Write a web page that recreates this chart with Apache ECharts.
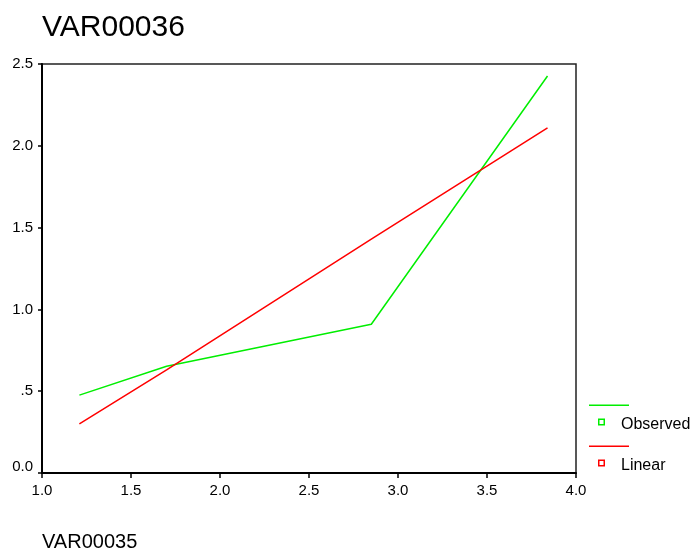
<!DOCTYPE html>
<html>
<head>
<meta charset="utf-8">
<script src="https://cdn.jsdelivr.net/npm/echarts@6/dist/echarts.min.js"></script>
<style>
  html, body { margin: 0; padding: 0; background: #fff; }
  #chart { width: 691px; height: 552px; }
</style>
</head>
<body>
<div id="chart"></div>
<script>
// VAR00035 values of the cases
var xValues = [1.21, 1.70, 2.85, 3.84];
// Observed VAR00036
var observedValues = [0.476, 0.652, 0.909, 2.427];
// Linear model predictions at the same cases
var linearValues = [0.30, 0.63, 1.43, 2.11];

var xTicks = { min: 1.0, max: 4.0, step: 0.5 };
var yTicks = { min: 0.0, max: 2.5, step: 0.5 };

var FONT = "'Liberation Sans', Arial, sans-serif";

function pairs(xs, ys) {
  return xs.map(function (x, i) { return [x, ys[i]]; });
}

// legend glyph: a line on top, a hollow square below
var legendIcon = 'path://M0,0H40V1.5H0Z M9,14H16V21H9Z M10.5,15.5V19.5H14.5V15.5Z';

function legendFor(name, top) {
  return {
    data: [name],
    orient: 'vertical',
    left: 589,
    top: top,
    padding: 0,
    itemWidth: 40,
    itemHeight: 21,
    itemGap: 0,
    icon: legendIcon,
    itemStyle: { borderWidth: 0 },
    selectedMode: false,
    // an empty first line drops the label beside the square
    formatter: function (n) { return '\n' + n; },
    textStyle: {
      fontFamily: FONT,
      fontSize: 16,
      lineHeight: 20,
      color: '#000',
      padding: [0, 0, 0, -13]
    }
  };
}

var chart = echarts.init(document.getElementById('chart'), null, { renderer: 'canvas' });

chart.setOption({
  animation: false,
  backgroundColor: '#fff',
  title: {
    text: 'VAR00036',
    left: 42,
    top: 13,
    padding: 0,
    textStyle: { fontFamily: FONT, fontSize: 30, fontWeight: 'normal', color: '#000' }
  },
  legend: [legendFor('Observed', 395), legendFor('Linear', 436)],
  grid: {
    left: 42, right: 115, top: 64, bottom: 78,
    show: true,
    borderColor: '#222',
    borderWidth: 1.5,
    backgroundColor: 'transparent'
  },
  xAxis: {
    type: 'value',
    min: xTicks.min,
    max: xTicks.max,
    interval: xTicks.step,
    name: 'VAR00035',
    nameLocation: 'start',
    nameGap: 0,
    nameTextStyle: {
      fontFamily: FONT, fontSize: 20, color: '#000',
      align: 'left', verticalAlign: 'top',
      padding: [59, 0, 0, 0]
    },
    axisLine: { show: true, onZero: false, lineStyle: { color: '#000', width: 2 } },
    axisTick: { show: true, inside: false, length: 5, lineStyle: { color: '#000', width: 1.5 } },
    axisLabel: {
      fontFamily: FONT, fontSize: 15, color: '#000', margin: 10,
      formatter: function (v) { return v.toFixed(1); }
    },
    splitLine: { show: false }
  },
  yAxis: {
    type: 'value',
    min: yTicks.min,
    max: yTicks.max,
    interval: yTicks.step,
    axisLine: { show: true, onZero: false, lineStyle: { color: '#000', width: 2 } },
    axisTick: { show: true, inside: false, length: 4, lineStyle: { color: '#000', width: 1.5 } },
    axisLabel: {
      fontFamily: FONT, fontSize: 15, color: '#000', margin: 9,
      formatter: function (v) {
        if (v === 0) return '{low|0.0}';
        if (v === 0.5) return '.5';
        return v.toFixed(1);
      },
      rich: { low: { fontFamily: FONT, fontSize: 15, color: '#000', padding: [0, 0, 12, 0] } }
    },
    splitLine: { show: false }
  },
  series: [
    {
      name: 'Observed',
      type: 'line',
      data: pairs(xValues, observedValues),
      showSymbol: false,
      color: '#00ee00',
      lineStyle: { color: '#00ee00', width: 1.5 }
    },
    {
      name: 'Linear',
      type: 'line',
      data: pairs(xValues, linearValues),
      showSymbol: false,
      color: '#ff0000',
      lineStyle: { color: '#ff0000', width: 1.5 }
    }
  ]
});
</script>
</body>
</html>
